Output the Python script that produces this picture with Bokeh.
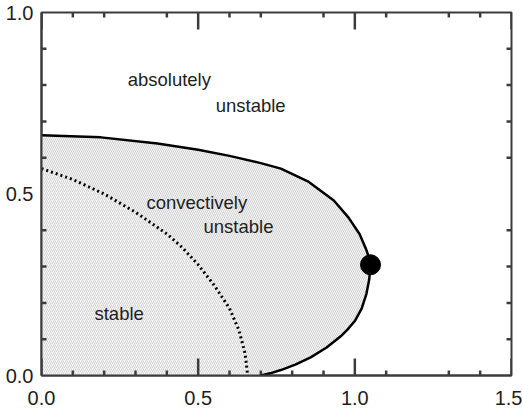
from bokeh.plotting import figure
from bokeh.models import LinearAxis, FixedTicker, Range1d, Label, PrintfTickFormatter
from bokeh.embed import file_html
from bokeh.resources import INLINE

# boundary between convectively and absolutely unstable (solid)
outer_v = [0.0, 0.19, 0.37, 0.5, 0.6, 0.7, 0.764, 0.85, 0.933, 0.98, 1.015, 1.035, 1.047, 1.05,
           1.046, 1.037, 1.022, 1.0, 0.975, 0.955, 0.91, 0.859, 0.81, 0.764, 0.73, 0.70]
outer_k = [0.662, 0.656, 0.639, 0.622, 0.605, 0.585, 0.570, 0.535, 0.482, 0.435, 0.390, 0.350, 0.320, 0.305,
           0.265, 0.225, 0.185, 0.150, 0.125, 0.108, 0.077, 0.050, 0.030, 0.015, 0.006, 0.0]
# boundary between stable and convectively unstable (dotted)
inner_v = [0.0, 0.1, 0.2, 0.3, 0.4, 0.45, 0.5, 0.55, 0.6, 0.63, 0.65, 0.658]
inner_k = [0.570, 0.540, 0.500, 0.450, 0.390, 0.352, 0.305, 0.250, 0.185, 0.125, 0.060, 0.0]
# critical point
dot_v = [1.05]
dot_k = [0.305]

x_major = [0.0, 0.5, 1.0, 1.5]
y_major = [0.0, 0.5, 1.0]
x_minor_bottom = [0.1, 0.2, 0.3, 0.4, 0.6, 0.7, 0.8, 0.9, 1.1, 1.3, 1.4]
x_minor_top = [0.1, 0.2, 0.4, 0.6, 0.7, 0.9, 1.1, 1.3, 1.4]
y_minor = [0.1, 0.2, 0.3, 0.4, 0.6, 0.7, 0.8, 0.9]

FONT = "Liberation Sans"
INK = "#1e1e1e"
FRAME = "#3c3c3c"

W, H = 522, 412
BL, BR, BT, BB = 41, 11, 12, 37
X0, X1, Y0, Y1 = 0.0, 1.5, 0.0, 1.0
DX = (X1 - X0) / (W - BL - BR)
DY = (Y1 - Y0) / (H - BT - BB)

p = figure(width=W, height=H, output_backend="svg", toolbar_location=None,
           x_range=Range1d(X0, X1), y_range=Range1d(Y0, Y1),
           x_axis_location=None, y_axis_location=None,
           min_border_left=BL, min_border_right=BR, min_border_top=BT, min_border_bottom=BB)
p.grid.visible = False
p.outline_line_color = FRAME
p.outline_line_width = 2
p.background_fill_color = "white"
p.border_fill_color = "white"

# regions
p.patch(outer_v + [0.0], outer_k + [0.0], fill_color="#f8f8f8",
        hatch_pattern="left_diagonal_line", hatch_color="#d0d0d0", hatch_scale=4,
        hatch_weight=1, line_color=None)
p.patch(inner_v + [0.0], inner_k + [0.0], fill_color="#f8f8f8",
        hatch_pattern="right_diagonal_line", hatch_color="#d2d2d2", hatch_scale=4,
        hatch_weight=1, line_color=None)

# inward ticks on all four sides, as one multi-line glyph
tick_xs, tick_ys = [], []
def vticks(xs, y_edge, length_px, direction):
    for x in xs:
        tick_xs.append([x, x])
        tick_ys.append([y_edge, y_edge + direction * length_px * DY])

def hticks(ys, x_edge, length_px, direction):
    for y in ys:
        tick_xs.append([x_edge, x_edge + direction * length_px * DX])
        tick_ys.append([y, y])

vticks(x_major, Y0, 17, 1)
vticks(x_major, Y1, 17, -1)
vticks(x_minor_bottom, Y0, 5, 1)
vticks(x_minor_top, Y1, 5, -1)
hticks(y_minor, X0, 5, 1)
hticks(y_minor, X1, 5, -1)
p.multi_line(tick_xs, tick_ys, line_color=FRAME, line_width=2.5)

p.line(outer_v, outer_k, line_color="black", line_width=2.5)
p.line(inner_v, inner_k, line_color="black", line_width=3, line_dash="2 3")
p.scatter(dot_v, dot_k, size=20, color="black")

def make_axis(ticks_, standoff):
    ax = LinearAxis(ticker=FixedTicker(ticks=ticks_, minor_ticks=[]))
    ax.axis_line_color = FRAME
    ax.axis_line_width = 2
    ax.major_tick_line_color = None
    ax.minor_tick_line_color = None
    ax.major_tick_in = 0
    ax.major_tick_out = 0
    ax.minor_tick_in = 0
    ax.minor_tick_out = 0
    ax.formatter = PrintfTickFormatter(format="%.1f")
    ax.major_label_text_font = FONT
    ax.major_label_text_font_size = "20px"
    ax.major_label_text_color = INK
    ax.major_label_standoff = standoff
    return ax

p.add_layout(make_axis(x_major, 15), "below")
p.add_layout(make_axis(y_major, 8), "left")

def lab(x, y, t, size="18.5px"):
    p.add_layout(Label(x=x, y=y, text=t, text_font=FONT, text_font_size=size,
                       text_color=INK, text_align="left", text_baseline="alphabetic"))

lab(0.275, 0.815, "absolutely")
lab(0.556, 0.744, "unstable")
lab(0.335, 0.477, "convectively")
lab(0.517, 0.410, "unstable")
lab(0.169, 0.171, "stable")
lab(-0.067, 0.835, "k", "20px")
lab(1.243, -0.055, "v", "20px")

open("out.html", "w").write(file_html(p, INLINE))
